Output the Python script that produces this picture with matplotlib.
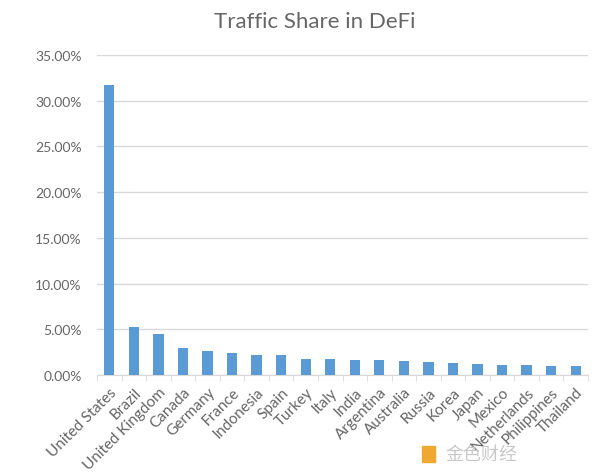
import matplotlib
matplotlib.use("Agg")
import matplotlib.pyplot as plt
from matplotlib.ticker import FuncFormatter, FixedLocator
import numpy as np

countries = ["United States", "Brazil", "United Kingdom", "Canada", "Germany", "France",
             "Indonesia", "Spain", "Turkey", "Italy", "India", "Argentina", "Australia",
             "Russia", "Korea", "Japan", "Mexico", "Netherlands", "Philippines", "Thailand"]
share = [0.317, 0.052, 0.0454, 0.0293, 0.026, 0.0246, 0.0217, 0.0215, 0.018, 0.018,
         0.0159, 0.0159, 0.0148, 0.014, 0.0129, 0.0122, 0.0115, 0.0115, 0.0104, 0.0104]
yticks = [0, 0.05, 0.10, 0.15, 0.20, 0.25, 0.30, 0.35]

plt.rcParams["font.family"] = ["Lato", "DejaVu Sans"]

fig = plt.figure(figsize=(6.0, 4.77), dpi=100)
ax = fig.add_axes([0.1617, 0.2117, 0.8183, 0.6709])

x = np.arange(len(countries))
ax.bar(x, share, width=0.42, color="#5b9bd5", zorder=3)

ax.set_xlim(-0.5, len(countries) - 0.5)
ax.set_ylim(0, 0.35)
ax.set_yticks(yticks)
ax.yaxis.set_major_formatter(FuncFormatter(lambda v, p: f"{v*100:.2f}%"))
ax.grid(axis="y", color="#d9d9d9", linewidth=1, zorder=0)
ax.tick_params(axis="y", length=0, labelsize=10, labelcolor="#666666", pad=11)

ax.set_xticks(x)
ax.set_xticklabels(countries, rotation=45, ha="right", rotation_mode="anchor",
                   fontsize=11, color="#666666")
ax.tick_params(axis="x", which="major", length=0, pad=7)
ax.xaxis.set_minor_locator(FixedLocator(np.arange(-0.5, len(countries), 1.0)))
ax.tick_params(axis="x", which="minor", length=4, color="#d9d9d9", direction="out")

for s in ["top", "right", "left"]:
    ax.spines[s].set_visible(False)
ax.spines["bottom"].set_color("#d9d9d9")

fig.text(0.525, 0.953, "Traffic Share in DeFi", ha="center", va="center",
         fontsize=16, color="#666666")

fig.patches.append(plt.Rectangle((0.703, 0.03), 0.022, 0.032, transform=fig.transFigure,
                                 color="#f0a830", figure=fig))
fig.text(0.742, 0.047, "金色财经", ha="left", va="center", fontsize=13,
         color="#c8c8c8", family=["Noto Sans CJK SC", "DejaVu Sans"])

fig.savefig("out.png", dpi=100)
